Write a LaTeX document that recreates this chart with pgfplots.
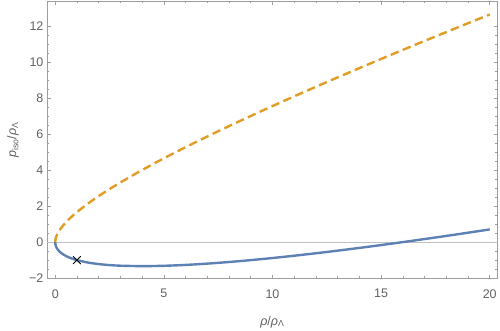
\documentclass[border=0pt]{standalone}
\usepackage{fontspec}
\setmainfont{Liberation Sans}
\usepackage{pgfplots}
\pgfplotsset{compat=1.18}
\definecolor{mblue}{rgb}{0.368417,0.506779,0.709798}
\definecolor{morange}{rgb}{0.880722,0.611041,0.142051}
\definecolor{framec}{gray}{0.62}
\definecolor{labc}{gray}{0.38}
\definecolor{zeroc}{gray}{0.75}
\begin{document}
\begin{tikzpicture}
\begin{axis}[
  scale only axis, width=451pt, height=278pt,
  xmin=-0.38, xmax=20.37, ymin=-2.04, ymax=13.38,
  xtick={0,5,10,15,20}, ytick={-2,0,2,4,6,8,10,12},
  yticklabels={−2,0,2,4,6,8,10,12},
  minor x tick num=4, minor y tick num=3,
  tick align=inside, major tick length=4pt, minor tick length=2.5pt,
  axis line style={framec, line width=0.9pt},
  every tick/.style={framec, line width=0.6pt},
  tick label style={font=\fontsize{12.5}{14}\selectfont, text=labc},
  /pgf/number format/assume math mode=true,
  xticklabel style={yshift=-7pt},
  xlabel={\textit{ρ}/\textit{ρ}\textsubscript{Λ}},
  ylabel={\textit{p}\textsubscript{iso}/\textit{ρ}\textsubscript{Λ}},
  label style={font=\fontsize{12.5}{14}\selectfont, text=labc},
  xlabel style={at={(axis description cs:0.5,0)}, anchor=center, yshift=-43pt},
  ylabel style={at={(axis description cs:0,0.5)}, anchor=center, yshift=34pt},
  clip=false,
]
\addplot[zeroc, line width=0.8pt] coordinates {(-0.38,0) (20.37,0)};
\addplot[mblue, line width=2.4pt, smooth] coordinates {
(0,0) (0.001,-0.0418) (0.01,-0.1300) (0.03,-0.2209) (0.05,-0.2815) (0.1,-0.3883)
(0.2,-0.5296) (0.3,-0.6303) (0.5,-0.7761) (0.75,-0.9047) (1,-1) (1.5,-1.1330)
(2,-1.2190) (2.5,-1.2749) (3,-1.3094) (4,-1.3333) (5,-1.3148) (6,-1.2660)
(7,-1.1943) (8,-1.1046) (9,-1) (10,-0.8830) (11,-0.7555) (12,-0.6188)
(13,-0.4741) (14,-0.3222) (15,-0.1640) (16,0) (17,0.1692) (18,0.3431)
(19,0.5215) (20,0.7036)
};
\addplot[morange, line width=2.4pt, smooth, dash pattern=on 8.5pt off 4.5pt] coordinates {
(0,0) (0.001,0.0425) (0.01,0.1367) (0.03,0.2409) (0.05,0.3148) (0.1,0.4550)
(0.2,0.6630) (0.3,0.8303) (0.5,1.1095) (0.75,1.4047) (1,1.6667) (1.5,2.1330)
(2,2.5523) (2.5,2.9415) (3,3.3094) (4,4.0) (5,4.6481) (6,5.2660)
(7,5.8610) (8,6.4379) (9,7) (10,7.5497) (11,8.0888) (12,8.6188)
(13,9.1407) (14,9.6555) (15,10.1640) (16,10.6667) (17,11.1641) (18,11.6569)
(19,12.1452) (20,12.6297)
};
\addplot[only marks, mark=x, mark size=5.5pt, black, line width=0.9pt] coordinates {(1,-1)};
\end{axis}
\path ([shift={(-47pt,-52pt)}]current axis.south west) rectangle ([shift={(2pt,1pt)}]current axis.north east);
\end{tikzpicture}
\end{document}
